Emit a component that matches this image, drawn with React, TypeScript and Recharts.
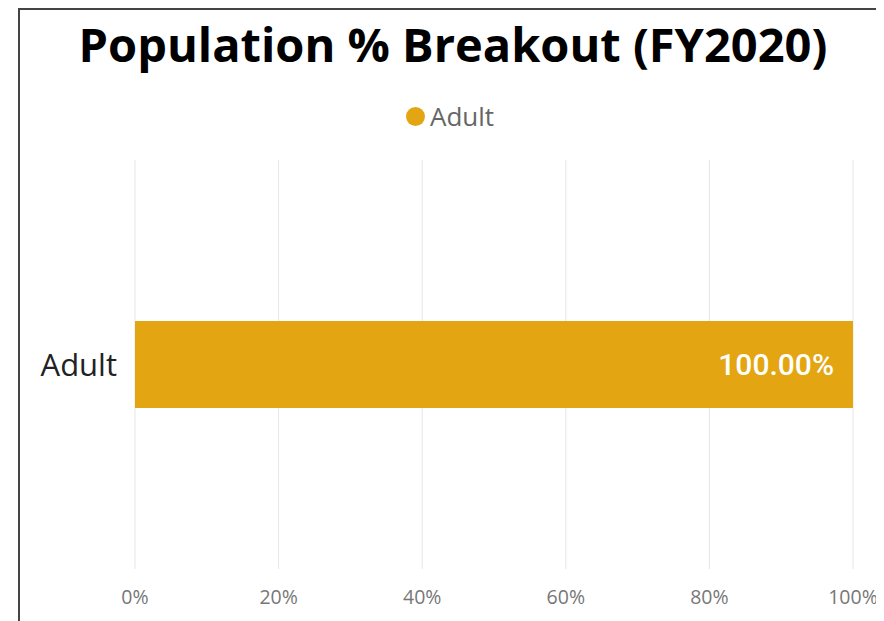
import React from 'react';
import { BarChart, Bar, XAxis, YAxis, CartesianGrid, LabelList } from 'recharts';

const categories = ['Adult'];
const shares = [100];
const xTicks = [0, 20, 40, 60, 80, 100];
const seriesName = 'Adult';

const BAR_COLOR = '#E3A612';
const FONT = '"Open Sans", "Noto Sans", sans-serif';

const rows = categories.map((name, i) => ({ name, Adult: shares[i] }));

export default function App() {
  return (
    <div style={{ position: 'relative', width: 876, height: 613, background: '#fff' }}>
      {/* frame edge, as in the screenshot */}
      <div
        style={{
          position: 'absolute',
          left: 10,
          top: 0,
          right: -10,
          bottom: -10,
          borderLeft: '2px solid #444',
          borderTop: '2px solid #444',
        }}
      />
      <div
        style={{
          position: 'absolute',
          left: 0,
          width: 890,
          top: 6,
          textAlign: 'center',
          fontFamily: FONT,
          fontWeight: 700,
          fontSize: 47,
          color: '#000',
          lineHeight: '60px',
        }}
      >
        Population % Breakout (FY2020)
      </div>
      <div
        style={{
          position: 'absolute',
          left: 0,
          width: 884,
          top: 90,
          display: 'flex',
          justifyContent: 'center',
          alignItems: 'center',
          fontFamily: FONT,
          fontSize: 26,
          lineHeight: '36px',
          color: '#666',
        }}
      >
        <span
          style={{
            display: 'inline-block',
            width: 19,
            height: 19,
            borderRadius: '50%',
            background: BAR_COLOR,
            marginRight: 5,
          }}
        />
        {seriesName}
      </div>
      <BarChart
        width={876}
        height={613}
        data={rows}
        layout="vertical"
        margin={{ top: 152, right: 31, bottom: 10, left: 0 }}
      >
        <CartesianGrid horizontal={false} stroke="#e6e6e6" />
        <XAxis
          type="number"
          domain={[0, 100]}
          ticks={xTicks}
          tickFormatter={(v) => `${v}%`}
          axisLine={false}
          tickLine={false}
          tickSize={0}
          tickMargin={21}
          height={42}
          tick={{ fill: '#777', fontSize: 19.5, fontFamily: FONT }}
          interval={0}
        />
        <YAxis
          type="category"
          dataKey="name"
          width={127}
          axisLine={false}
          tickLine={false}
          tickSize={0}
          tickMargin={18}
          tick={{ fill: '#222', fontSize: 31, fontFamily: FONT }}
        />
        <Bar dataKey="Adult" fill={BAR_COLOR} barSize={87} isAnimationActive={false}>
          <LabelList
            dataKey="Adult"
            position="insideRight"
            offset={19}
            formatter={(v: any) => `${Number(v).toFixed(2)}%`}
            style={{ fill: '#fff', fontSize: 30, fontWeight: 500, fontFamily: 'Roboto, sans-serif' }}
          />
        </Bar>
      </BarChart>
    </div>
  );
}
